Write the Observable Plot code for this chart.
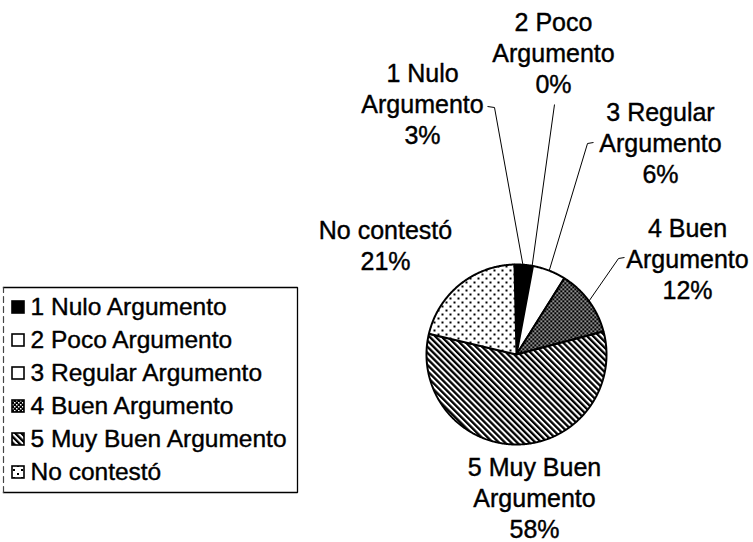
<!DOCTYPE html>
<html>
<head>
<meta charset="utf-8">
<script src="https://cdn.jsdelivr.net/npm/d3@7"></script>
<script src="https://cdn.jsdelivr.net/npm/@observablehq/plot@0.6"></script>
<style>
  html, body { margin: 0; padding: 0; background: #fff; }
  #chart svg { display: block; }
</style>
</head>
<body>
<svg width="0" height="0" style="position:absolute">
  <defs>
    <pattern id="pat-buen" patternUnits="userSpaceOnUse" width="4" height="4">
      <rect width="4" height="4" fill="#000"></rect>
      <rect x="0" y="0" width="1.5" height="1.5" fill="#fff"></rect>
      <rect x="2" y="2" width="1.5" height="1.5" fill="#fff"></rect>
    </pattern>
    <pattern id="pat-hatch" patternUnits="userSpaceOnUse" width="4.3" height="10" patternTransform="rotate(-45)">
      <rect width="4.3" height="10" fill="#fff"></rect>
      <rect x="0" y="0" width="2.3" height="10" fill="#000"></rect>
    </pattern>
    <pattern id="pat-dots" patternUnits="userSpaceOnUse" width="8" height="8">
      <rect width="8" height="8" fill="#fff"></rect>
      <rect x="1" y="1" width="2" height="2" fill="#000"></rect>
      <rect x="5" y="5" width="2" height="2" fill="#000"></rect>
    </pattern>
  </defs>
</svg>
<div id="chart"></div>
<script>
// ---- data ----
const categories = ["1 Nulo Argumento", "2 Poco Argumento", "3 Regular Argumento", "4 Buen Argumento", "5 Muy Buen Argumento", "No contestó"];
const labelNames = ["1 Nulo\nArgumento", "2 Poco\nArgumento", "3 Regular\nArgumento", "4 Buen\nArgumento", "5 Muy Buen\nArgumento", "No contestó"];
const values = [3, 0.3, 6, 12, 58, 21];
const fills = ["#000", "#fff", "#fff", "url(#pat-buen)", "url(#pat-hatch)", "url(#pat-dots)"];

// ---- layout (pixels) ----
const W = 753, H = 542;
const pieCenter = [516, 354], pieRadius = 90;
const startDeg = -1.3;
const labelAt = [[422, 103], [553, 52], [660, 142], [687, 258], [534, 497], [385, 244]];
const leaderFrom = [[[487, 106], [494, 107]], [[554, 104]], [[593, 142], [587, 143]], [[624, 257], [618, 258]], null, null];
const legendBox = {x1: 3, x2: 297, y1: 287, y2: 492};
const legendRow0 = 307, legendStep = 33;
const FONT = "'Liberation Sans', Arial, Helvetica, sans-serif";

// ---- geometry ----
const total = d3.sum(values);
const arcs = d3.pie().sort(null).value(d => d)
  .startAngle(startDeg * Math.PI / 180)
  .endAngle(startDeg * Math.PI / 180 + 2 * Math.PI)(values);
const polar = (a, r) => [pieCenter[0] + r * Math.sin(a), pieCenter[1] - r * Math.cos(a)];

const slicePts = [];
arcs.forEach((a, i) => {
  const n = Math.max(2, Math.ceil((a.endAngle - a.startAngle) / (Math.PI / 360)));
  slicePts.push({i, x: pieCenter[0], y: pieCenter[1]});
  for (let k = 0; k <= n; k++) {
    const [x, y] = polar(a.startAngle + (a.endAngle - a.startAngle) * k / n, pieRadius);
    slicePts.push({i, x, y});
  }
  slicePts.push({i, x: pieCenter[0], y: pieCenter[1]});
});

const leaderPts = [];
arcs.forEach((a, i) => {
  if (!leaderFrom[i]) return;
  leaderFrom[i].forEach(([x, y]) => leaderPts.push({i, x, y}));
  const [ex, ey] = polar((a.startAngle + a.endAngle) / 2, pieRadius);
  leaderPts.push({i, x: ex, y: ey});
});

const labels = values.map((v, i) => ({
  x: labelAt[i][0], y: labelAt[i][1],
  text: labelNames[i] + "\n" + Math.round(v / total * 100) + "%"
}));

const legendRows = categories.map((c, i) => ({
  name: c, fill: fills[i], y: legendRow0 + i * legendStep
}));

const frameSolid = [
  {x: legendBox.x1, y: legendBox.y1}, {x: legendBox.x2, y: legendBox.y1},
  {x: legendBox.x2, y: legendBox.y2}, {x: legendBox.x1, y: legendBox.y2}
];
const frameLeft = [{x: legendBox.x1, y: legendBox.y2}, {x: legendBox.x1, y: legendBox.y1}];

const plot = Plot.plot({
  width: W, height: H,
  margin: 0,
  x: {domain: [0, W], range: [0, W], axis: null},
  y: {domain: [0, H], range: [0, H], axis: null},
  color: {type: "identity"},
  style: {fontFamily: FONT, background: "#fff"},
  marks: [
    // pie slices
    Plot.line(slicePts, {x: "x", y: "y", z: "i", fill: d => fills[d.i], stroke: "#000", strokeWidth: 2, strokeLinejoin: "miter", curve: "linear"}),
    // leader lines
    Plot.line(leaderPts, {x: "x", y: "y", z: "i", stroke: "#000", strokeWidth: 1, strokeLinecap: "butt", strokeLinejoin: "miter"}),
    // data labels
    Plot.text(labels, {x: "x", y: "y", text: "text", fontSize: 25, lineHeight: 1.24, textAnchor: "middle", fill: "#000", stroke: "#000", strokeWidth: 0.4}),
    // legend frame
    Plot.line(frameSolid, {x: "x", y: "y", stroke: "#000", strokeWidth: 1.3, strokeLinejoin: "miter", strokeLinecap: "square"}),
    Plot.line(frameLeft, {x: "x", y: "y", stroke: "#444", strokeWidth: 1.2, strokeDasharray: "6,4"}),
    // legend swatches
    Plot.rect(legendRows, {x1: 12, x2: 24, y1: d => d.y - 6, y2: d => d.y + 6, fill: "fill", stroke: "#000", strokeWidth: 1.6}),
    // legend text
    Plot.text(legendRows, {x: 30, y: "y", text: "name", fontSize: 24.5, textAnchor: "start", fill: "#000", stroke: "#000", strokeWidth: 0.4})
  ]
});
document.getElementById("chart").appendChild(plot);
</script>
</body>
</html>
